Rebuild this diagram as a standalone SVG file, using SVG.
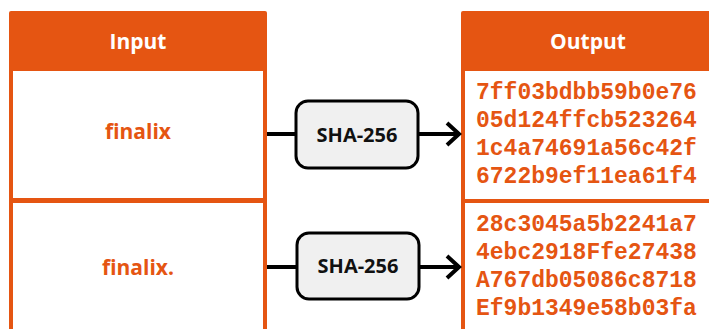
<svg xmlns="http://www.w3.org/2000/svg" width="709" height="329" viewBox="0 0 709 329">
<style>
.tbl{fill:#E55512}
.cell{fill:#ffffff}
.hdr{font-family:"Open Sans","Noto Sans",sans-serif;font-weight:700;font-size:21px;fill:#ffffff;text-anchor:middle}
.inp{font-family:"Open Sans","Noto Sans",sans-serif;font-weight:700;font-size:21px;fill:#E55512;text-anchor:middle}
.hash{font-family:"Liberation Mono",monospace;font-weight:700;font-size:23px;fill:#E55512}
.box{fill:#f0f0f0;stroke:#000;stroke-width:3}
.lbl{font-family:"Open Sans","Noto Sans",sans-serif;font-weight:700;font-size:20px;fill:#111;text-anchor:middle}
.conn{stroke:#000;stroke-width:4;fill:none}
</style>
<g id="input">
<rect class="tbl" x="9" y="11" width="258" height="330" rx="2"/>
<text class="hdr" x="138" y="49">Input</text>
<rect class="cell" x="13" y="71" width="250" height="127"/>
<rect class="cell" x="13" y="203" width="250" height="140"/>
<text class="inp" x="138" y="139">finalix</text>
<text class="inp" x="138" y="275">finalix.</text>
</g>
<g id="output">
<rect class="tbl" x="461" y="11" width="260" height="330" rx="2"/>
<text class="hdr" x="588" y="49">Output</text>
<rect class="cell" x="465" y="71" width="260" height="128"/>
<rect class="cell" x="465" y="203" width="260" height="140"/>
<text class="hash" x="476" y="99">7ff03bdbb59b0e76</text>
<text class="hash" x="476" y="127">05d124ffcb523264</text>
<text class="hash" x="476" y="155">1c4a74691a56c42f</text>
<text class="hash" x="476" y="183">6722b9ef11ea61f4</text>
<text class="hash" x="476" y="231">28c3045a5b2241a7</text>
<text class="hash" x="476" y="259">4ebc2918Ffe27438</text>
<text class="hash" x="476" y="287">A767db05086c8718</text>
<text class="hash" x="476" y="315">Ef9b1349e58b03fa</text>
</g>
<g id="connectors">
<line class="conn" x1="267" y1="134" x2="296" y2="134"/>
<line class="conn" x1="418" y1="134" x2="459" y2="134"/>
<polyline class="conn" points="447,123 459,134 447,145"/>
<line class="conn" x1="267" y1="267" x2="296" y2="267"/>
<line class="conn" x1="420" y1="267" x2="459" y2="267"/>
<polyline class="conn" points="447,256 459,267 447,278"/>
</g>
<g id="sha1">
<rect class="box" x="296" y="101" width="122" height="67" rx="12"/>
<text class="lbl" x="357" y="142">SHA-256</text>
</g>
<g id="sha2">
<rect class="box" x="297" y="233" width="122" height="66" rx="12"/>
<text class="lbl" x="358" y="273">SHA-256</text>
</g>
</svg>
